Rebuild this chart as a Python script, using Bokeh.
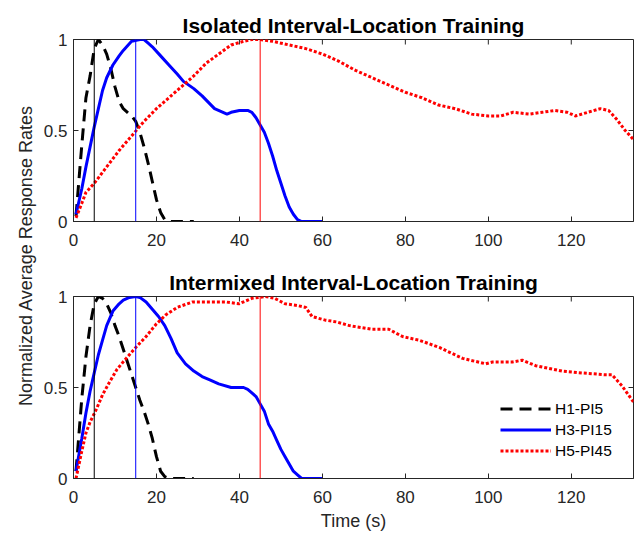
import numpy as np
from bokeh.plotting import figure
from bokeh.models import Range1d, FixedTicker, LinearAxis, Label, Span, Legend
from bokeh.layouts import row, column
from bokeh.embed import file_html
from bokeh.resources import INLINE

# ---------------- data ----------------
panel_titles = ["Isolated Interval-Location Training", "Intermixed Interval-Location Training"]
series_names = ["H1-PI5", "H3-PI15", "H5-PI45"]
peak_times = [5, 15, 45]
x_min, x_max = 0, 135
y_min, y_max = 0, 1
x_ticks = [0, 20, 40, 60, 80, 100, 120]
y_ticks = [0, 0.5, 1]
y_tick_labels = ["0", "0.5", "1"]
x_label = "Time (s)"
y_label = "Normalized Average Response Rates"

# Isolated training
iso_h1_x = [0.6, 2, 3, 4, 5, 6, 7, 8, 9, 10, 11, 12, 13, 14, 15, 16, 17, 18, 19, 20, 21, 22, 23, 24, 26, 29]
iso_h1_y = [0.03, 0.42, 0.68, 0.8, 0.95, 1.0, 0.97, 0.92, 0.84, 0.74, 0.66, 0.62, 0.60, 0.58, 0.55, 0.49,
            0.41, 0.32, 0.22, 0.12, 0.05, 0.01, 0.0, 0.0, 0.0, 0.0]
iso_h3_x = [0.6, 2, 3, 4, 5, 6, 7, 8, 9.5, 11, 12, 14, 16, 17, 18, 19, 21, 23, 25, 26.5, 29, 31, 34, 37, 38,
            40, 42, 43, 44, 45, 46, 47, 48, 49, 50, 51, 52, 53, 54, 55, 57, 60]
iso_h3_y = [0.04, 0.18, 0.3, 0.41, 0.52, 0.62, 0.72, 0.79, 0.86, 0.91, 0.94, 0.99, 1.0, 1.0, 0.98, 0.96,
            0.91, 0.86, 0.81, 0.77, 0.73, 0.69, 0.62, 0.59, 0.60, 0.61, 0.61, 0.60, 0.57, 0.53, 0.49, 0.43,
            0.36, 0.28, 0.21, 0.14, 0.08, 0.04, 0.01, 0.0, 0.0, 0.0]
iso_h5_x = [0.6, 2, 3, 5, 8, 11, 14, 17, 20, 23, 26, 29, 32, 35, 38, 41, 43, 45, 48, 52, 56, 60, 64, 68, 72,
            76, 80, 84, 88, 92, 96, 100, 103, 106, 110, 113, 116, 119, 121, 124, 127, 129, 131, 133, 135]
iso_h5_y = [0.02, 0.1, 0.16, 0.21, 0.3, 0.39, 0.47, 0.55, 0.62, 0.68, 0.74, 0.8, 0.87, 0.92, 0.97, 0.99, 1.0,
            1.0, 0.99, 0.97, 0.95, 0.92, 0.88, 0.83, 0.79, 0.75, 0.71, 0.68, 0.64, 0.62, 0.59, 0.58, 0.58,
            0.60, 0.59, 0.60, 0.61, 0.60, 0.58, 0.60, 0.62, 0.61, 0.56, 0.50, 0.45]

# Intermixed training
mix_h1_x = [0.6, 2, 3, 4, 5, 6, 7, 8, 9, 10, 11, 12, 13, 14, 15, 16, 17, 18, 19, 20, 21, 22, 23, 24, 26, 29]
mix_h1_y = [0.04, 0.44, 0.67, 0.84, 0.96, 1.0, 0.99, 0.96, 0.91, 0.84, 0.78, 0.71, 0.64, 0.57, 0.50, 0.43,
            0.37, 0.30, 0.22, 0.12, 0.04, 0.01, 0.0, 0.0, 0.0, 0.0]
mix_h3_x = [0.6, 2, 3, 4, 5, 6, 7, 8, 9.5, 11, 12, 13.5, 15, 16, 17.5, 19, 20.5, 22, 23.5, 25, 27, 29, 31,
            33, 35, 38, 41, 42, 43, 44, 45, 46, 47, 48, 49, 50, 51, 52, 53, 54, 55, 57, 60]
mix_h3_y = [0.04, 0.22, 0.36, 0.48, 0.58, 0.68, 0.76, 0.84, 0.92, 0.96, 0.98, 0.995, 1.0, 0.995, 0.97, 0.93,
            0.89, 0.84, 0.77, 0.69, 0.63, 0.59, 0.56, 0.54, 0.52, 0.50, 0.50, 0.49, 0.47, 0.45, 0.41, 0.37,
            0.30, 0.26, 0.21, 0.16, 0.12, 0.08, 0.04, 0.02, 0.0, 0.0, 0.0]
mix_h5_x = [0.6, 2, 3, 4, 5.5, 7, 8.7, 10.5, 12.7, 15, 17.5, 20, 22.3, 25, 28.7, 32.7, 36.7, 39.9, 43, 46.3,
            48.5, 51, 54, 56, 57.5, 60.7, 63.5, 66.5, 72, 76, 79.3, 83.3, 88.2, 93.8, 99.4, 101, 105.8,
            108.2, 111.4, 117.8, 122.6, 128.2, 129.8, 132.2, 135]
mix_h5_y = [0.0, 0.15, 0.25, 0.31, 0.38, 0.46, 0.53, 0.60, 0.66, 0.72, 0.78, 0.85, 0.90, 0.94, 0.97, 0.97,
            0.97, 0.96, 0.99, 1.0, 0.99, 0.96, 0.95, 0.94, 0.89, 0.87, 0.86, 0.84, 0.82, 0.82, 0.78, 0.76,
            0.72, 0.66, 0.63, 0.64, 0.64, 0.65, 0.62, 0.59, 0.58, 0.57, 0.57, 0.51, 0.42]

panels = [
    [(iso_h1_x, iso_h1_y), (iso_h3_x, iso_h3_y), (iso_h5_x, iso_h5_y)],
    [(mix_h1_x, mix_h1_y), (mix_h3_x, mix_h3_y), (mix_h5_x, mix_h5_y)],
]

# ---------------- style ----------------
FONT = "Liberation Sans"
AX = "#262626"
colors = ["black", "blue", "red"]
dashes = ["12 7", "solid", "3 2"]


def make_panel(idx, last):
    p = figure(width=598, height=275 if last else 258,
               x_range=Range1d(x_min, x_max), y_range=Range1d(y_min, y_max),
               output_backend="svg", toolbar_location=None,
               min_border_left=35, min_border_right=3,
               min_border_top=39 if idx == 0 else 38,
               min_border_bottom=55 if last else 37,
               x_axis_type=None, y_axis_type=None)
    p.outline_line_color = AX
    p.background_fill_color = "white"
    p.border_fill_color = "white"

    xb = LinearAxis(ticker=FixedTicker(ticks=x_ticks))
    yl = LinearAxis(ticker=FixedTicker(ticks=y_ticks))
    yl.major_label_overrides = {t: s for t, s in zip(y_ticks, y_tick_labels)}
    for ax in (xb, yl):
        ax.axis_line_color = AX
        ax.major_tick_line_color = AX
        ax.minor_tick_line_color = None
        ax.major_tick_in = 5
        ax.major_tick_out = 0
        ax.major_label_text_font = FONT
        ax.major_label_text_font_size = "17px"
        ax.major_label_text_color = AX
    xb.major_label_standoff = 12
    yl.major_label_standoff = 6
    if last:
        xb.axis_label = x_label
        xb.axis_label_text_font = FONT
        xb.axis_label_text_font_size = "18px"
        xb.axis_label_text_font_style = "normal"
        xb.axis_label_text_color = AX
        xb.axis_label_standoff = 5
    p.add_layout(xb, "below")
    p.add_layout(yl, "left")

    # mirrored inward ticks on the top and right edges of the box
    p.ray(x=x_ticks, y=[y_max] * len(x_ticks), length=5, length_units="screen",
          angle=-np.pi / 2, line_color=AX, line_width=1)
    p.ray(x=[x_max] * len(y_ticks), y=y_ticks, length=5, length_units="screen",
          angle=np.pi, line_color=AX, line_width=1)

    p.title.text = panel_titles[idx]
    p.title.text_font = FONT
    p.title.text_font_size = "21px"
    p.title.text_font_style = "bold"
    p.title.align = "center"
    p.title.text_color = "black"
    p.title.standoff = 6

    for t, c in zip(peak_times, colors):
        p.add_layout(Span(location=t, dimension="height", line_color=c, line_width=1))

    items = []
    for (xs, ys), c, d, name in zip(panels[idx], colors, dashes, series_names):
        r = p.line(xs, ys, line_color=c, line_width=3, line_dash=d)
        items.append((name, [r]))
    if last:
        leg = Legend(items=items, location=(427, 17))
        leg.border_line_color = None
        leg.background_fill_alpha = 0
        leg.label_text_font = FONT
        leg.label_text_font_size = "15.5px"
        leg.label_text_color = "black"
        leg.glyph_width = 51
        leg.glyph_height = 21
        leg.label_height = 21
        leg.spacing = 0
        leg.padding = 5
        leg.label_standoff = 4
        p.add_layout(leg, "center")
    return p


p1 = make_panel(0, False)
p2 = make_panel(1, True)

lab = figure(width=38, height=533, output_backend="svg", toolbar_location=None,
             x_axis_type=None, y_axis_type=None, min_border=0,
             x_range=Range1d(0, 1), y_range=Range1d(0, 1))
lab.outline_line_color = None
lab.xgrid.visible = False
lab.ygrid.visible = False
lab.add_layout(Label(x=25, y=278, x_units="screen", y_units="screen", text=y_label, angle=np.pi / 2,
                     text_align="center", text_baseline="middle", text_font=FONT,
                     text_font_size="18px", text_color=AX))

layout = row(lab, column(p1, p2))
open("out.html", "w").write(file_html(layout, INLINE))
